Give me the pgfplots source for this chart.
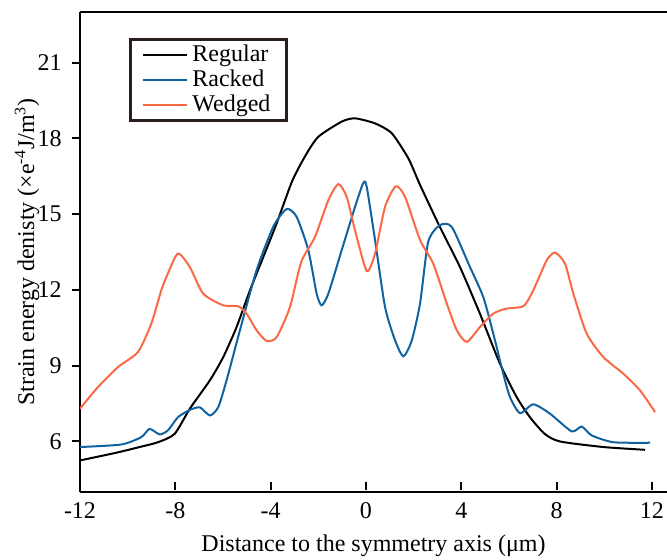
\documentclass[border=0pt]{standalone}
\usepackage{fontspec}
\setmainfont{Liberation Serif}
\usepackage{pgfplots}
\pgfplotsset{compat=1.18}
\definecolor{cblue}{RGB}{16,99,161}
\definecolor{corange}{RGB}{250,105,70}
\definecolor{lframe}{RGB}{42,30,26}
\begin{document}
\fontsize{12}{14}\selectfont
\begin{tikzpicture}
\begin{axis}[
  scale only axis, width=293.5pt, height=240pt,
  xmin=-12, xmax=12.63, ymin=4, ymax=23,
  axis x line*=box, axis y line*=left,
  axis line style={line width=1.1pt, black},
  xtick={-12,-8,-4,0,4,8,12},
  xticklabels={-12,-8,-4,0,4,8,12},
  ytick={6,9,12,15,18,21},
  yticklabels={6,9,12,15,18,21},
  xtick pos=lower, ytick pos=left,
  tick align=outside,
  major tick length=4pt,
  tick style={line width=1pt, black},
  major x tick style={yshift=5pt},
  x tick label style={yshift=3pt, font=\fontsize{12}{14}\selectfont},
  y tick label style={xshift=-1pt, font=\fontsize{12}{14}\selectfont},
  xlabel={Distance to the symmetry axis (μm)},
  ylabel={Strain energy denisty (×e\textsuperscript{-4}J/m\textsuperscript{3})},
  label style={font=\fontsize{12}{14}\selectfont},
  xlabel style={yshift=0pt},
  ylabel style={yshift=-9pt},
  legend style={at={(0.0835,0.946)}, anchor=north west, draw=lframe, line width=1.4pt,
    font=\fontsize{12}{12}\selectfont, inner xsep=6pt, inner ysep=0.75pt,
    row sep=-1.7pt, cells={anchor=west}},
  legend image post style={line width=1pt},
  legend image code/.code={\draw[#1] (0pt,0pt) -- (22pt,0pt);},
  every axis plot/.append style={line width=1pt, smooth, tension=0.4},
]
\addplot[black] coordinates {
(-12,5.25) (-10.5,5.55) (-9.5,5.78) (-8.73,5.97) (-8.03,6.3) (-7.39,7.3) (-6.55,8.42)
(-5.99,9.34) (-5.43,10.53) (-4.87,11.98) (-4.31,13.3) (-3.75,14.63) (-3.1,16.3) (-2.55,17.3)
(-2.0,18.06) (-1.02,18.66) (-0.46,18.79) (0.38,18.59) (1.08,18.2) (1.78,17.2) (2.27,16.15)
(3.1,14.49) (3.94,12.91) (4.78,11.06) (5.62,9.08) (6.32,7.76) (6.88,6.96) (7.5,6.3)
(8.14,6.0) (9.96,5.78) (11.71,5.67)
};
\addlegendentry{Regular}
\addplot[cblue] coordinates {
(-12,5.78) (-10.27,5.88) (-9.43,6.17) (-9.08,6.5) (-8.66,6.28) (-8.31,6.44) (-7.89,6.96)
(-7.39,7.25) (-6.97,7.35) (-6.55,7.03) (-6.2,7.36) (-5.85,8.42) (-5.29,10.4) (-4.59,12.78)
(-3.89,14.5) (-3.33,15.2) (-2.91,14.89) (-2.42,13.57) (-2.07,11.85) (-1.86,11.39)
(-1.58,11.85) (-1.02,13.57) (-0.46,15.29) (-0.11,16.24) (0.03,16.08) (0.38,13.97)
(0.8,11.32) (1.22,10.0) (1.57,9.37) (1.92,10.0) (2.27,11.47) (2.61,13.9) (3.1,14.56)
(3.6,14.49) (4.36,12.91) (4.92,11.72) (5.34,10.27) (5.76,8.68) (6.04,7.76) (6.46,7.12)
(7.02,7.47) (7.72,7.1) (8.63,6.4) (9.05,6.59) (9.47,6.24) (10.38,5.97) (11.92,5.95)
};
\addlegendentry{Racked}
\addplot[corange] coordinates {
(-12,7.3) (-11.25,8.15) (-10.41,8.94) (-9.57,9.54) (-9.01,10.66) (-8.59,11.98) (-8.31,12.65)
(-7.89,13.44) (-7.39,12.9) (-6.83,11.85) (-5.99,11.39) (-5.36,11.35) (-5.01,11.06)
(-4.59,10.4) (-4.17,9.98) (-3.75,10.13) (-3.19,11.32) (-2.72,13.1) (-2.14,14.1)
(-1.58,15.55) (-1.16,16.19) (-0.81,15.68) (-0.46,14.36) (0.03,12.75) (0.38,13.44)
(0.8,15.29) (1.25,16.1) (1.64,15.68) (2.27,13.97) (2.82,13.04) (3.39,11.46) (3.81,10.4)
(4.23,9.94) (4.78,10.53) (5.34,11.06) (5.9,11.26) (6.6,11.35) (6.95,11.85) (7.3,12.58)
(7.6,13.2) (7.93,13.48) (8.35,13.04) (8.7,11.85) (9.26,10.27) (9.96,9.34) (10.8,8.68)
(11.5,8.02) (12.13,7.16)
};
\addlegendentry{Wedged}
\end{axis}
\pgfresetboundingbox
\path[use as bounding box] ([xshift=-40pt,yshift=-34pt]current axis.south west) rectangle ([yshift=6pt]current axis.north east);
\end{tikzpicture}
\end{document}
